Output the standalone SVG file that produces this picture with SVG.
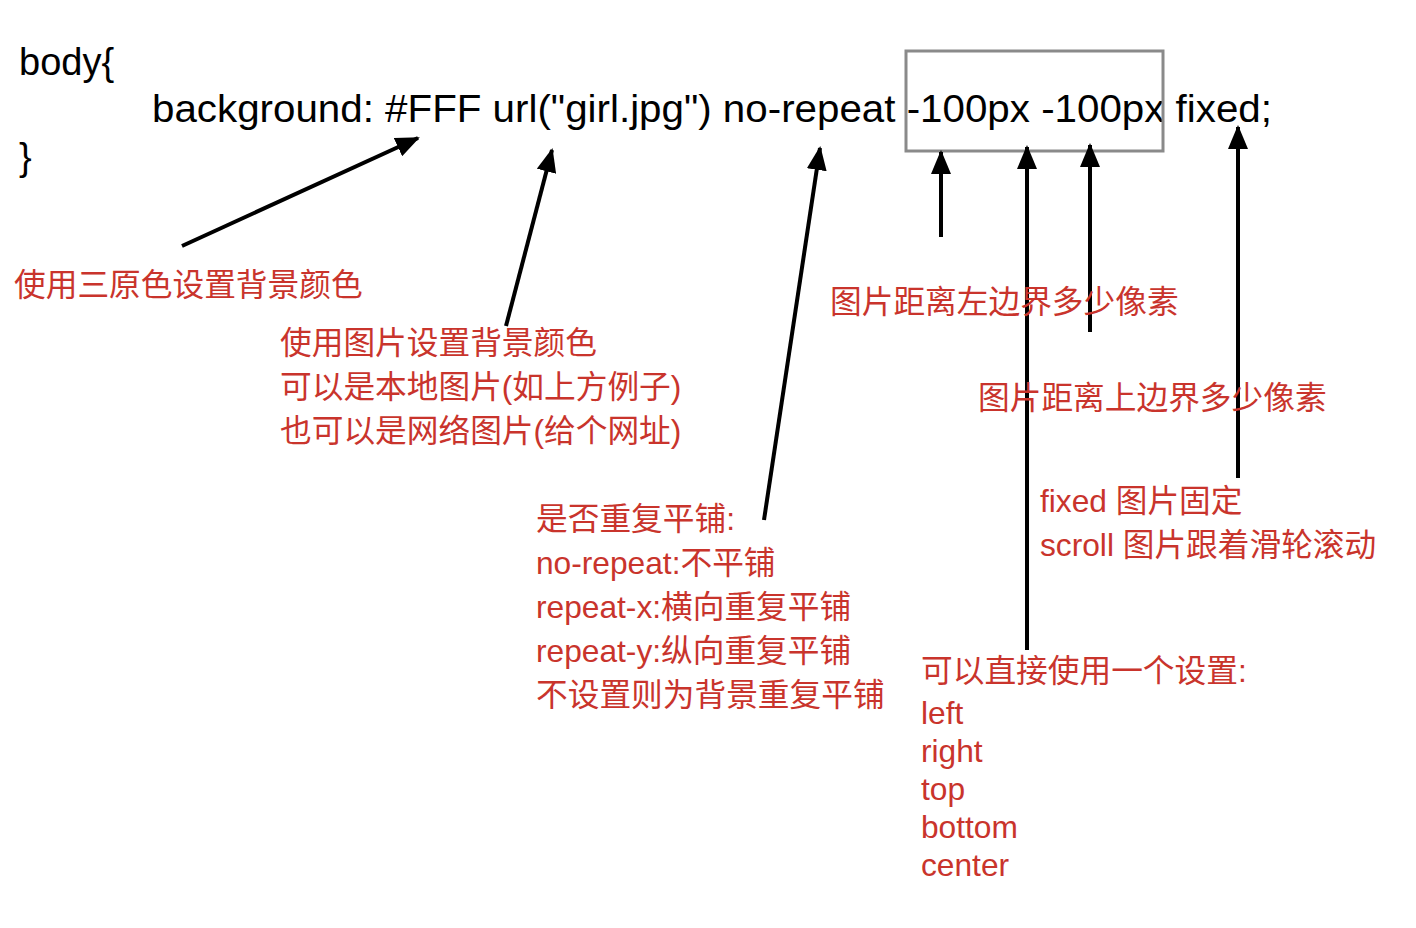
<svg xmlns="http://www.w3.org/2000/svg" width="1416" height="928" viewBox="0 0 1416 928">
<defs>
<style>
.code{font-family:"Liberation Sans","Noto Sans",sans-serif;font-size:38px;fill:#000;}
.note{font-family:"Liberation Sans","Noto Sans CJK SC",sans-serif;font-size:31.7px;fill:#c9342c;}
.arrow{stroke:#000;stroke-width:4;fill:none;marker-end:url(#ah);}
</style>
<marker id="ah" markerUnits="userSpaceOnUse" markerWidth="24" markerHeight="20" viewBox="0 0 24 20" refX="22" refY="10" orient="auto">
<path d="M0,0 L24,10 L0,20 Z" fill="#000"/>
</marker>
</defs>
<rect width="1416" height="928" fill="#fff"/>
<g id="code">
<text class="code" x="19" y="75">body{</text>
<text class="code" x="152" y="122" textLength="1120" lengthAdjust="spacingAndGlyphs">background: #FFF url("girl.jpg") no-repeat -100px -100px fixed;</text>
<text class="code" x="19" y="170">}</text>
</g>
<g id="highlight-box">
<rect x="906" y="51" width="257" height="100" fill="none" stroke="#8a8a8a" stroke-width="3"/>
</g>
<g id="connectors">
<line class="arrow" x1="182" y1="246" x2="418" y2="138"/>
<line class="arrow" x1="506" y1="326" x2="552" y2="150"/>
<line class="arrow" x1="764" y1="520" x2="820" y2="148"/>
<line class="arrow" x1="941" y1="237" x2="941" y2="152"/>
<line class="arrow" x1="1027" y1="650" x2="1027" y2="147"/>
<line class="arrow" x1="1090" y1="332" x2="1090" y2="145"/>
<line class="arrow" x1="1238" y1="478" x2="1238" y2="127"/>
</g>
<g id="note-color">
<text class="note" x="14" y="296">使用三原色设置背景颜色</text>
</g>
<g id="note-image">
<text class="note" x="280" y="354">使用图片设置背景颜色</text>
<text class="note" x="280" y="398">可以是本地图片(如上方例子)</text>
<text class="note" x="280" y="442">也可以是网络图片(给个网址)</text>
</g>
<g id="note-repeat">
<text class="note" x="536" y="530">是否重复平铺:</text>
<text class="note" x="536" y="574">no-repeat:不平铺</text>
<text class="note" x="536" y="618">repeat-x:横向重复平铺</text>
<text class="note" x="536" y="662">repeat-y:纵向重复平铺</text>
<text class="note" x="536" y="706">不设置则为背景重复平铺</text>
</g>
<g id="note-left">
<text class="note" x="830" y="313">图片距离左边界多少像素</text>
</g>
<g id="note-top">
<text class="note" x="978" y="409">图片距离上边界多少像素</text>
</g>
<g id="note-fixed">
<text class="note" x="1040" y="512">fixed 图片固定</text>
<text class="note" x="1040" y="556">scroll 图片跟着滑轮滚动</text>
</g>
<g id="note-keywords">
<text class="note" x="921" y="682">可以直接使用一个设置:</text>
<text class="note" x="921" y="724">left</text>
<text class="note" x="921" y="762">right</text>
<text class="note" x="921" y="800">top</text>
<text class="note" x="921" y="838">bottom</text>
<text class="note" x="921" y="876">center</text>
</g>
</svg>
